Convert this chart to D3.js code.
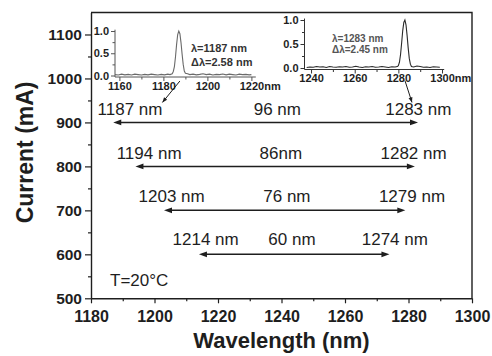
<!DOCTYPE html>
<html>
<head>
<meta charset="utf-8">
<script src="https://cdn.jsdelivr.net/npm/d3@7"></script>
<style>
  body { margin: 0; background: #fff; }
  svg { display: block; }
  text { font-family: Arial, "Liberation Sans", sans-serif; }
</style>
</head>
<body>
<svg id="chart" width="492" height="356"></svg>
<script>
// Tuning range of the laser at each drive current
const currents   = [900, 800, 700, 600];
const shortEdge  = [1187, 1194, 1203, 1214];
const longEdge   = [1283, 1282, 1279, 1274];
const spanText   = ["96 nm", "86nm", "76 nm", "60 nm"];

const xTicks = [1180, 1200, 1220, 1240, 1260, 1280, 1300];
const yTicks = [500, 600, 700, 800, 900, 1000, 1100];

// Normalized emission spectrum at the short-wavelength edge
const specAWl  = [1158, 1159.5, 1161, 1162.5, 1164, 1165.5, 1167, 1168.5, 1170, 1171.5, 1173, 1174.5, 1176, 1177.5, 1179, 1180.5, 1182, 1183, 1184, 1184.5, 1185, 1185.5, 1186, 1186.5, 1187, 1187.5, 1188, 1188.5, 1189, 1189.5, 1190, 1191, 1192, 1193.5, 1195, 1196.5, 1198, 1199.5, 1201, 1202.5, 1204, 1205.5, 1207, 1208.5, 1210, 1211.5, 1213, 1214.5, 1216, 1217.5, 1219, 1220];
const specAVal = [0.02, 0.01, 0.03, 0.015, 0.025, 0.01, 0.03, 0.02, 0.01, 0.025, 0.015, 0.03, 0.02, 0.01, 0.025, 0.015, 0.03, 0.02, 0.04, 0.09, 0.2, 0.42, 0.7, 0.92, 1.0, 0.94, 0.74, 0.48, 0.25, 0.1, 0.05, 0.04, 0.02, 0.03, 0.015, 0.025, 0.04, 0.02, 0.03, 0.01, 0.025, 0.02, 0.035, 0.015, 0.03, 0.02, 0.01, 0.03, 0.02, 0.025, 0.015, 0.02];
const specATicks = [1160, 1180, 1200, 1220];

// Normalized emission spectrum at the long-wavelength edge
const specBWl  = [1238, 1239.5, 1241, 1242.5, 1244, 1245.5, 1247, 1248.5, 1250, 1251.5, 1253, 1254.5, 1256, 1257.5, 1259, 1260.5, 1262, 1263.5, 1265, 1266.5, 1268, 1269.5, 1271, 1272.5, 1274, 1275.5, 1277, 1278.5, 1279.5, 1280, 1280.5, 1281, 1281.5, 1282, 1282.5, 1283, 1283.5, 1284, 1284.5, 1285, 1285.5, 1286, 1287, 1288.5, 1290, 1291.5, 1293, 1294.5, 1296, 1297.5, 1299];
const specBVal = [0.01, 0.02, 0.015, 0.03, 0.02, 0.025, 0.01, 0.03, 0.02, 0.015, 0.025, 0.02, 0.03, 0.015, 0.02, 0.035, 0.02, 0.01, 0.025, 0.02, 0.03, 0.015, 0.02, 0.03, 0.02, 0.01, 0.025, 0.02, 0.03, 0.05, 0.12, 0.28, 0.52, 0.78, 0.95, 1.0, 0.9, 0.68, 0.42, 0.2, 0.08, 0.03, 0.02, 0.04, 0.03, 0.015, 0.02, 0.01, 0.025, 0.02, 0.015];
const specBTicks = [1240, 1260, 1280, 1300];

const peakA = { wl: "1187", fwhm: "2.58" };
const peakB = { wl: "1283", fwhm: "2.45" };

const ink = "#1e1e1e";
const svg = d3.select("#chart");

// ---------- main frame ----------
const x = d3.scaleLinear().domain([1180, 1300]).range([91, 472]);
const y = d3.scaleLinear().domain([500, 1150]).range([298.3, 12.5]);

const frame = svg.append("g");
frame.append("path")
  .attr("d", `M${x(1180)},${y(1150)}H${x(1300)}V${y(500)}`)
  .attr("fill", "none").attr("stroke", ink).attr("stroke-width", 1.4);

function styleAxis(g, size) {
  g.select(".domain").attr("stroke", ink).attr("stroke-width", 1.4);
  g.selectAll(".tick line").attr("stroke", ink).attr("stroke-width", 1.2);
  g.selectAll(".tick text").attr("fill", ink).attr("font-weight", "bold")
    .attr("font-size", size).attr("font-family", "Arial, 'Liberation Sans', sans-serif");
}

const xMinor = d3.range(1190, 1300, 20);
const yMinor = d3.range(550, 1150, 100);

frame.append("g").attr("transform", `translate(0,${y(500)})`)
  .call(d3.axisBottom(x).tickValues(xMinor).tickSize(3).tickFormat("").tickSizeOuter(0))
  .call(g => { g.select(".domain").remove(); g.selectAll("line").attr("stroke", ink).attr("stroke-width", 1.2); });
frame.append("g").attr("transform", `translate(${x(1180)},0)`)
  .call(d3.axisLeft(y).tickValues(yMinor).tickSize(3).tickFormat("").tickSizeOuter(0))
  .call(g => { g.select(".domain").remove(); g.selectAll("line").attr("stroke", ink).attr("stroke-width", 1.2); });

frame.append("g").attr("transform", `translate(0,${y(500)})`)
  .call(d3.axisBottom(x).tickValues(xTicks).tickSize(5).tickPadding(7).tickSizeOuter(0).tickFormat(d3.format("d")))
  .call(g => styleAxis(g, 16));
frame.append("g").attr("transform", `translate(${x(1180)},0)`)
  .call(d3.axisLeft(y).tickValues(yTicks).tickSize(6).tickPadding(3).tickSizeOuter(0).tickFormat(d3.format("d")))
  .call(g => styleAxis(g, 15.5));

svg.append("text")
  .attr("x", (x(1180) + x(1300)) / 2).attr("y", 348)
  .attr("text-anchor", "middle").attr("font-weight", "bold").attr("font-size", 22)
  .attr("fill", ink).text("Wavelength (nm)");
svg.append("text")
  .attr("transform", `translate(33,${(y(500) + y(1150)) / 2 - 3}) rotate(-90)`)
  .attr("text-anchor", "middle").attr("font-weight", "bold").attr("font-size", 23)
  .attr("fill", ink).text("Current (mA)");

// ---------- tuning arrows ----------
// label anchors (nm along the wavelength axis) for each row: left, middle, right
const labelAt = [
  [1192.3, 1238.7, 1283.1],
  [1198.3, 1239.8, 1281.6],
  [1205.4, 1241.7, 1281.1],
  [1216.1, 1243.3, 1275.7]
];
const labelLift = [7.5, 7, 8.5, 9.3];

function head(px, py, dir) {
  const L = 8, W = 2.8;
  return `M${px},${py}L${px - dir * L},${py - W}L${px - dir * L},${py + W}Z`;
}

const rows = svg.append("g");
currents.forEach((c, i) => {
  const yy = y(c), x0 = x(shortEdge[i]), x1 = x(longEdge[i]);
  rows.append("line").attr("x1", x0 + 4).attr("x2", x1 - 4)
    .attr("y1", yy).attr("y2", yy).attr("stroke", ink).attr("stroke-width", 1.5);
  rows.append("path").attr("d", head(x0, yy, -1)).attr("fill", ink);
  rows.append("path").attr("d", head(x1, yy, 1)).attr("fill", ink);
  const ty = yy - labelLift[i];
  const texts = [`${shortEdge[i]} nm`, spanText[i], `${longEdge[i]} nm`];
  texts.forEach((t, k) => {
    rows.append("text").attr("x", x(labelAt[i][k])).attr("y", ty)
      .attr("text-anchor", "middle").attr("font-size", 17).attr("fill", ink).text(t);
  });
});

svg.append("text").attr("x", 110).attr("y", 286)
  .attr("font-size", 17).attr("fill", ink).text("T=20°C");

// ---------- inset spectra ----------
function inset(cfg) {
  const g = svg.append("g");
  const sx = d3.scaleLinear().domain(cfg.xDom).range(cfg.xRange);
  const sy = d3.scaleLinear().domain([0, 1]).range(cfg.yRange);
  const base = sy(0) + 1.5;
  // y axis
  g.append("g").attr("transform", `translate(${cfg.xRange[0]},0)`)
    .call(d3.axisLeft(sy).tickValues([0.25, 0.75]).tickSize(2.5).tickFormat("").tickSizeOuter(0))
    .call(a => { a.select(".domain").remove(); a.selectAll("line").attr("stroke", cfg.axisInk); });
  g.append("g").attr("transform", `translate(${cfg.xRange[0]},0)`)
    .call(d3.axisLeft(sy).tickValues([0, 0.5, 1]).tickSize(4).tickPadding(2).tickSizeOuter(0).tickFormat(d3.format(".1f")))
    .call(a => {
      a.select(".domain").remove();
      a.selectAll("line").attr("stroke", cfg.axisInk);
      a.selectAll("text").attr("font-size", 11).attr("font-weight", "bold").attr("fill", ink)
        .attr("font-family", "Arial, 'Liberation Sans', sans-serif");
    });
  g.append("line").attr("x1", cfg.xRange[0]).attr("x2", cfg.xRange[0])
    .attr("y1", sy(1.03)).attr("y2", base).attr("stroke", cfg.axisInk).attr("stroke-width", 1);
  // x axis
  g.append("g").attr("transform", `translate(0,${base})`)
    .call(d3.axisBottom(sx).tickValues(cfg.minor).tickSize(2.5).tickFormat("").tickSizeOuter(0))
    .call(a => { a.select(".domain").remove(); a.selectAll("line").attr("stroke", cfg.axisInk); });
  g.append("line").attr("x1", cfg.xRange[0]).attr("x2", cfg.xRange[1])
    .attr("y1", base).attr("y2", base).attr("stroke", cfg.axisInk).attr("stroke-width", 1);
  const last = cfg.ticks[cfg.ticks.length - 1];
  g.append("g").attr("transform", `translate(0,${base})`)
    .call(d3.axisBottom(sx).tickValues(cfg.ticks).tickSize(4).tickPadding(1).tickSizeOuter(0)
      .tickFormat(d3.format("d")))
    .call(a => {
      a.select(".domain").remove();
      a.selectAll("line").attr("stroke", cfg.axisInk);
      a.selectAll("text").attr("font-size", 11).attr("font-weight", "bold").attr("fill", ink)
        .attr("font-family", "Arial, 'Liberation Sans', sans-serif");
      // unit trails the last tick value
      a.selectAll(".tick").filter(d => d === last).select("text")
        .attr("text-anchor", "start").attr("dx", "-12.2").text(`${last}nm`);
    });
  // spectrum
  const line = d3.line().x((d, i) => sx(cfg.wl[i])).y(d => sy(d));
  g.append("path").datum(cfg.val).attr("d", line)
    .attr("fill", "none").attr("stroke", cfg.lineInk).attr("stroke-width", 1.1);
  // peak annotation
  g.append("text").attr("x", cfg.noteX).attr("y", cfg.noteY)
    .attr("font-size", cfg.noteSize).attr("font-weight", "bold").attr("fill", cfg.noteInk)
    .text(`λ=${cfg.peak.wl} nm`);
  g.append("text").attr("x", cfg.noteX).attr("y", cfg.noteY + cfg.noteGap)
    .attr("font-size", cfg.noteSize).attr("font-weight", "bold").attr("fill", cfg.noteInk)
    .text(`Δλ=${cfg.peak.fwhm} nm`);
  return { sx, sy, base };
}

const insA = inset({
  xDom: [1158, 1222], xRange: [115, 255.8], yRange: [75.5, 31],
  ticks: specATicks, minor: [1170, 1190, 1210],
  wl: specAWl, val: specAVal, peak: peakA,
  axisInk: "#555", lineInk: "#6a6a6a", noteInk: "#333",
  noteX: 191, noteY: 52, noteGap: 13.5, noteSize: 11
});
const insB = inset({
  xDom: [1237, 1301], xRange: [304.5, 444.2], yRange: [68, 20],
  ticks: specBTicks, minor: [1250, 1270, 1290],
  wl: specBWl, val: specBVal, peak: peakB,
  axisInk: "#333", lineInk: "#2a2a2a", noteInk: "#555",
  noteX: 332, noteY: 42, noteGap: 11, noteSize: 10
});

// pointers from each spectrum down to its edge label
function pointer(x0, y0, x1, y1) {
  svg.append("line").attr("x1", x0).attr("y1", y0).attr("x2", x1).attr("y2", y1)
    .attr("stroke", ink).attr("stroke-width", 1);
  const a = Math.atan2(y1 - y0, x1 - x0), L = 5, W = 2;
  const bx = x1 - L * Math.cos(a), by = y1 - L * Math.sin(a);
  svg.append("path")
    .attr("d", `M${x1},${y1}L${bx + W * Math.sin(a)},${by - W * Math.cos(a)}L${bx - W * Math.sin(a)},${by + W * Math.cos(a)}Z`)
    .attr("fill", ink);
}
pointer(insA.sx(1187.5), insA.base + 4, x(1202.5), y(900) - 20);
pointer(insB.sx(1283), insB.base + 11, x(1281.1), y(900) - 20);
</script>
</body>
</html>
